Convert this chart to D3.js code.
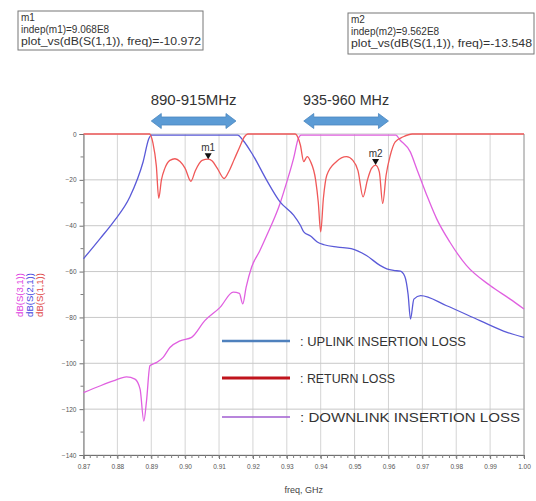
<!DOCTYPE html>
<html><head><meta charset="utf-8">
<script src="https://cdn.jsdelivr.net/npm/d3@7/dist/d3.min.js"></script>
<style>body{margin:0;background:#fff}svg{display:block}text{font-family:"Liberation Sans",Arial,sans-serif}</style>
</head><body><svg id="c" width="536" height="501"></svg>
<script>
// ---- data ----
const xTicks = [0.87,0.88,0.89,0.90,0.91,0.92,0.93,0.94,0.95,0.96,0.97,0.98,0.99,1.00];
const yTicks = [0,-20,-40,-60,-80,-100,-120,-140];
const s11 = [[0.87,0],[0.8895,0],[0.8905,-4],[0.8915,-14],[0.8922,-28],[0.893,-20],[0.894,-15],[0.8955,-11.5],[0.897,-10.8],[0.8985,-12],[0.9,-15],[0.9017,-20.6],[0.903,-16],[0.905,-11.5],[0.9068,-10.97],[0.908,-11.8],[0.9095,-15],[0.9115,-19.4],[0.913,-16],[0.9145,-11],[0.916,-6],[0.9175,-1.2],[0.9185,0],[0.9325,0],[0.934,-4.8],[0.935,-12],[0.936,-9.9],[0.937,-12],[0.9385,-20],[0.9393,-30],[0.94,-42.7],[0.9408,-28],[0.9418,-18],[0.9446,-12.1],[0.9476,-9.9],[0.9495,-11.5],[0.951,-16],[0.9525,-27.4],[0.9538,-20],[0.955,-15],[0.9562,-13.55],[0.9573,-16.5],[0.9583,-30.3],[0.9593,-18],[0.9605,-9.5],[0.962,-3.4],[0.9644,-1.2],[0.967,0],[1.0,0]];
const s21 = [[0.87,-54.4],[0.8749,-45.6],[0.8788,-38.4],[0.8837,-27.4],[0.8876,-12.1],[0.8893,-2],[0.89,-0.5],[0.9155,-0.5],[0.917,-2.6],[0.92,-9.2],[0.924,-20],[0.928,-29.6],[0.932,-35.4],[0.934,-39.8],[0.935,-42.7],[0.937,-44.5],[0.939,-47.1],[0.941,-48.3],[0.945,-49.3],[0.949,-50],[0.9535,-53],[0.9575,-57.3],[0.9595,-58.8],[0.9615,-59.5],[0.9635,-59.8],[0.9648,-62],[0.9658,-70],[0.9665,-80.7],[0.9675,-72],[0.9695,-70.5],[0.977,-74.8],[0.987,-81.4],[0.995,-86.5],[1.0,-88.7]];
const s31 = [[0.87,-112.8],[0.875,-109.8],[0.8788,-107.7],[0.8827,-105.9],[0.8852,-106.9],[0.8867,-111.3],[0.8878,-125.2],[0.8886,-116.4],[0.8896,-101.1],[0.8916,-99.6],[0.8935,-97.4],[0.8955,-93.1],[0.8985,-90.2],[0.9019,-88.7],[0.9058,-81.4],[0.9103,-75.6],[0.9142,-69],[0.916,-69.5],[0.917,-74.1],[0.918,-66.8],[0.9196,-58.1],[0.922,-51],[0.924,-44.5],[0.928,-30.3],[0.93,-20.9],[0.932,-10.6],[0.9334,-2],[0.9342,-0.5],[0.9622,-0.5],[0.9634,-2.6],[0.9664,-7.7],[0.9683,-15],[0.9713,-26.7],[0.9742,-36.9],[0.9781,-47.1],[0.983,-57.3],[0.99,-66.1],[0.9958,-71.9],[1.0,-76.3]];
const bands = [{label:"890-915MHz", f0:0.89, f1:0.915},{label:"935-960 MHz", f0:0.935, f1:0.96}];
const markers = [{name:"m1", f:0.9068, v:-10.972},{name:"m2", f:0.9562, v:-13.548}];
const legendItems = [{label:": UPLINK INSERTION LOSS", color:"#4f81bd", w:2.5, len:166},{label:": RETURN LOSS", color:"#c0141c", w:3, len:95},{label:": DOWNLINK INSERTION LOSS", color:"#a05cd0", w:1.5, len:220}];

// ---- layout ----
const svg = d3.select("#c");
const L=83.5, R=524, T=134, B=455;
const x = d3.scaleLinear().domain([0.87,1.0]).range([L,R]);
const y = d3.scaleLinear().domain([0,-140]).range([T,B]);

// grid
const g = svg.append("g");
g.selectAll(".vg").data(xTicks).enter().append("line")
  .attr("x1",d=>x(d)).attr("x2",d=>x(d)).attr("y1",T).attr("y2",B)
  .attr("stroke","#d4d4d4").attr("stroke-width",1);
g.selectAll(".hg").data(yTicks).enter().append("line")
  .attr("x1",L).attr("x2",R).attr("y1",d=>y(d)).attr("y2",d=>y(d))
  .attr("stroke","#c8c8c8").attr("stroke-width",1);

// axes
const xAxis = d3.axisBottom(x).tickValues(xTicks).tickFormat(d3.format(".2f")).tickSize(4);
const xa = svg.append("g").attr("transform",`translate(0,${B})`).call(xAxis);
const minorX = d3.range(0,66).map(i=>0.87+i*0.002);
const ya = svg.append("g").attr("transform",`translate(${L},0)`)
  .call(d3.axisLeft(y).tickValues(yTicks).tickFormat(d3.format("d")).tickSize(4));
[xa,ya].forEach(a=>{a.select(".domain").attr("stroke","#707070");a.selectAll(".tick line").attr("stroke","#707070");
  a.selectAll("text").attr("fill","#555").style("font-size","6.5px");});
xa.selectAll("text").attr("dy","1.1em");
svg.append("g").selectAll("line").data(minorX).enter().append("line")
  .attr("x1",d=>x(d)).attr("x2",d=>x(d)).attr("y1",B).attr("y2",B+3).attr("stroke","#808080");
svg.append("g").selectAll("line").data(d3.range(-10,-140,-20)).enter().append("line")
  .attr("x1",L-3).attr("x2",L).attr("y1",d=>y(d)).attr("y2",d=>y(d)).attr("stroke","#808080");
svg.append("line").attr("x1",R).attr("x2",R).attr("y1",T).attr("y2",B).attr("stroke","#a0a0a0");

svg.append("text").attr("x",(L+R)/2).attr("y",493).attr("text-anchor","middle")
  .style("font-size","9px").attr("fill","#444").text("freq, GHz");

// y labels
[["dB(S(3,1))","#e040e0",23],["dB(S(2,1))","#4848e0",33],["dB(S(1,1))","#e04848",43]].forEach(([t,c,px])=>{
  svg.append("text").attr("transform",`translate(${px},295) rotate(-90)`).attr("text-anchor","middle")
    .style("font-size","9.5px").attr("fill",c).text(t);
});

// curves
const line = d3.line().x(d=>x(d[0])).y(d=>y(d[1])).curve(d3.curveMonotoneX);
svg.append("path").datum(s31).attr("d",line).attr("fill","none").attr("stroke","#e060e0").attr("stroke-width",1.3);
svg.append("path").datum(s21).attr("d",line).attr("fill","none").attr("stroke","#5a5ad8").attr("stroke-width",1.3);
svg.append("path").datum(s11).attr("d",line).attr("fill","none").attr("stroke","#f05858").attr("stroke-width",1.3);

// markers
markers.forEach(m=>{
  const px=x(m.f), py=y(m.v);
  svg.append("path").attr("d",`M${px-3.5},${py-6}L${px+3.5},${py-6}L${px},${py}Z`).attr("fill","#111");
  svg.append("text").attr("x",px).attr("y",py-8).attr("text-anchor","middle").style("font-size","10px").attr("fill","#333").text(m.name);
});

// marker boxes
const boxes=[{m:markers[0],x:18,y:11,w:185,h:39},{m:markers[1],x:348,y:13,w:186,h:41}];
boxes.forEach(b=>{
  svg.append("rect").attr("x",b.x).attr("y",b.y).attr("width",b.w).attr("height",b.h).attr("fill","#fff").attr("stroke","#777");
  const lines=[b.m.name,`indep(${b.m.name})=${(b.m.f*10).toFixed(3)}E8`,`plot_vs(dB(S(1,1)), freq)=${b.m.v.toFixed(3)}`];
  lines.forEach((t,i)=>{
    const tx=svg.append("text").attr("x",b.x+3).attr("y",b.y+10+i*12).style("font-size","10px").attr("fill","#333").text(t);
    if(i==2) tx.attr("textLength",b.w-5).attr("lengthAdjust","spacingAndGlyphs");
  });
});

// band arrows
bands.forEach(bd=>{
  const x0=x(bd.f0), x1=x(bd.f1), cy=121, hb=4, hh=7.5, hl=10;
  svg.append("path").attr("d",`M${x0},${cy}L${x0+hl},${cy-hh}L${x0+hl},${cy-hb}L${x1-hl},${cy-hb}L${x1-hl},${cy-hh}L${x1},${cy}L${x1-hl},${cy+hh}L${x1-hl},${cy+hb}L${x0+hl},${cy+hb}L${x0+hl},${cy+hh}Z`)
    .attr("fill","#5b9bd5").attr("stroke","#4a86bf").attr("stroke-width",0.8);
  svg.append("text").attr("x",(x0+x1)/2).attr("y",105).attr("text-anchor","middle")
    .style("font-size","14px").attr("fill","#333").attr("textLength",86).attr("lengthAdjust","spacingAndGlyphs").text(bd.label);
});

// legend
legendItems.forEach((it,i)=>{
  const ly=[341,378,417][i];
  svg.append("line").attr("x1",222).attr("x2",290).attr("y1",ly).attr("y2",ly).attr("stroke",it.color).attr("stroke-width",it.w);
  svg.append("text").attr("x",300).attr("y",ly+5).style("font-size","13px").attr("fill","#333")
    .attr("textLength",it.len).attr("lengthAdjust","spacingAndGlyphs").text(it.label);
});
</script></body></html>
